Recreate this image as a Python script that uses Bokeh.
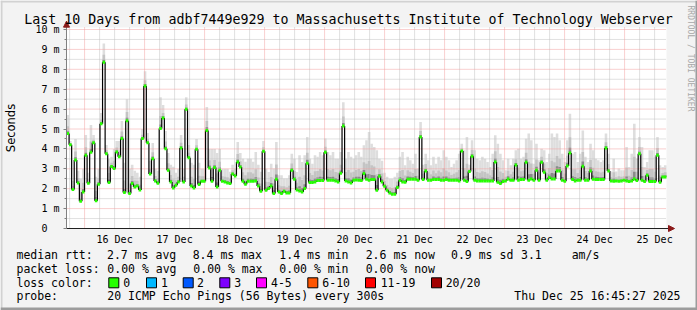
import numpy as np
import pandas as pd
from bokeh.plotting import figure
from bokeh.models import (Range1d, FixedTicker, Label, BoxAnnotation, Arrow,
                          NormalHead, ColumnDataSource, DatetimeTickFormatter)
from bokeh.embed import file_html
from bokeh.resources import INLINE

# ---------------- data ----------------
title_text = "Last 10 Days from adbf7449e929 to Massachusetts Institute of Technology Webserver"
end_time = "2025-12-25 16:45:27"
span_days = 10

# median round trip time per step (ms)
median_ms = [
    4.77, 4.21, 1.96, 3.44, 2.29, 1.37, 1.84, 3.68, 2.27, 3.83,
    4.31, 1.40, 2.22, 5.27, 8.36, 3.76, 2.31, 3.11, 3.01, 3.85,
    3.60, 4.52, 1.81, 5.42, 1.76, 2.26, 2.09, 2.14, 1.94, 4.52,
    7.16, 4.31, 2.74, 3.51, 2.39, 2.27, 5.02, 5.55, 4.01,
    2.93, 2.34, 2.04, 2.17, 2.34, 4.05, 2.34, 5.99, 3.55, 2.14,
    2.04, 3.98, 2.21, 2.37, 2.37, 4.93, 3.04, 2.37, 3.06, 2.09,
    2.93, 2.37, 2.34, 2.29, 2.26, 2.74, 2.64, 3.34, 3.09, 2.37,
    2.22, 2.37, 2.37, 2.37, 2.39, 2.14, 1.87, 3.88, 1.92,
    2.01, 2.14, 1.76, 2.47, 1.84, 1.76, 1.87, 1.79, 1.79, 2.93,
    2.47, 1.94, 1.89, 1.84, 2.01, 3.28, 2.31, 2.31, 2.34, 2.41,
    2.41, 2.41, 3.83, 2.42, 2.42, 2.42, 2.39, 2.34, 2.78, 5.15,
    2.39, 2.34, 2.29, 2.42, 2.44, 2.42, 2.41, 2.76,
    2.47, 2.42, 2.46, 2.46, 1.92, 2.63, 2.34, 2.12, 1.92, 1.79,
    1.72, 1.72, 2.06, 2.42, 2.34, 2.32, 2.47, 2.47, 2.47, 2.47,
    2.42, 4.60, 2.46, 2.89, 2.42, 2.42, 2.46, 2.46, 2.46, 2.42,
    2.42, 2.46, 2.42, 2.42, 2.42, 2.42, 2.39, 3.90, 2.42, 2.36,
    2.86, 3.63, 2.42, 2.39, 2.39, 2.39, 2.39, 2.39, 2.39, 2.39,
    3.34, 2.32, 2.26, 2.36, 2.39, 2.49, 2.42, 2.42, 3.19, 2.42,
    2.46, 2.46, 3.33, 2.42, 2.49, 2.42, 2.93, 2.42, 3.33, 2.83,
    2.42, 2.56, 2.49, 2.49, 2.89, 2.89, 2.42, 2.37, 3.14,
    3.80, 2.46, 2.39, 2.42, 2.42, 3.13, 2.42, 2.42, 2.89, 2.47,
    2.46, 2.46, 2.46, 2.46, 4.05, 2.89, 2.39, 2.37, 2.39, 2.37,
    2.39, 2.42, 2.39, 2.36, 2.39, 2.49, 2.41, 3.76, 2.42, 2.36,
    2.68, 2.36, 2.36, 2.36, 3.68, 2.32, 2.59, 2.59,
]

# upper edge of the smoke (slowest pings) per step (ms)
smoke_top_ms = [
    5.7, 4.4, 2.4, 4.5, 2.9, 2.5, 3.0, 4.7, 2.8, 5.2,
    4.7, 2.6, 3.0, 5.8, 9.3, 4.2, 3.5, 3.6, 4.0, 4.4,
    4.4, 5.4, 3.3, 6.5, 3.0, 3.2, 2.9, 2.8, 2.6, 5.0,
    7.9, 4.8, 3.4, 4.3, 3.0, 2.9, 6.6, 6.2, 4.9,
    3.8, 3.2, 3.1, 2.8, 3.0, 4.7, 3.0, 6.6, 4.2, 3.3,
    3.2, 4.5, 3.3, 3.0, 3.0, 6.1, 4.0, 4.0, 4.0, 3.8,
    4.0, 3.0, 3.0, 3.0, 2.85, 3.2, 3.0, 4.35, 3.8, 3.5,
    3.35, 3.5, 3.5, 3.35, 3.85, 3.2, 2.85, 4.4, 3.0,
    2.84, 3.26, 3.01, 4.35, 2.68, 2.68, 2.51, 2.51, 2.68, 3.76,
    3.51, 2.84, 3.68, 3.34, 3.68, 4.6, 3.51, 3.26, 3.68, 3.6,
    3.85, 3.68, 4.52, 3.85, 3.68, 3.85, 3.51, 3.51, 3.85, 6.35,
    3.51, 3.85, 3.6, 3.51, 3.68, 3.85, 3.6, 4.18,
    4.43, 4.85, 4.26, 4.09, 3.93, 3.5, 3.4, 2.8, 2.6, 2.5,
    2.5, 2.6, 2.8, 3.6, 3.84, 3.18, 3.6, 3.43, 3.26, 3.76,
    3.0, 5.35, 3.2, 3.76, 3.43, 3.18, 3.6, 3.26, 3.6, 3.43,
    3.93, 3.6, 3.43, 3.09, 3.26, 3.43, 3.76, 4.26, 3.93, 4.6,
    3.2, 4.43, 3.93, 3.51, 3.43, 3.6, 3.51, 3.34, 3.09, 3.76,
    4.68, 4.26, 3.76, 3.43, 2.93, 3.51, 3.18, 3.51, 3.93, 4.01,
    3.51, 3.6, 4.51, 4.77, 4.43, 3.26, 4.26, 3.43, 4.01, 3.93,
    3.34, 3.76, 4.77, 4.6, 4.77, 4.43, 3.76, 3.34, 4.43,
    5.77, 3.76, 3.85, 3.34, 3.76, 4.93, 3.6, 3.34, 4.26, 3.93,
    3.51, 3.43, 3.34, 3.43, 4.77, 3.76, 2.86, 3.51, 2.86, 3.01,
    2.93, 2.93, 4.09, 3.09, 3.76, 5.27, 3.51, 4.6, 4.09, 3.09,
    3.34, 3.93, 3.93, 3.6, 4.6, 3.18, 3.09, 3.18,
]

y_ticks = [0, 1, 2, 3, 4, 5, 6, 7, 8, 9, 10]
y_tick_labels = ["0\u00a0\u00a0", "1 m", "2 m", "3 m", "4 m", "5 m",
                 "6 m", "7 m", "8 m", "9 m", "10 m"]
y_top = 10.1

rtt_row = ["median rtt:", "2.7 ms avg", "8.4 ms max", "1.4 ms min",
           "2.6 ms now", "0.9 ms sd", "3.1", "am/s"]
loss_row = ["packet loss:", "0.00 % avg", "0.00 % max", "0.00 % min",
            "0.00 % now"]
loss_labels = ["0", "1", "2", "3", "4-5", "6-10", "11-19", "20/20"]
loss_colors = ["#26ff00", "#00b8ff", "#0059ff", "#7e00ff", "#ff00ff",
               "#ff5500", "#ff0000", "#a10000"]
probe_text = "20 ICMP Echo Pings (56 Bytes) every 300s"
stamp_text = "Thu Dec 25 16:45:27 2025"
side_text = "RRDTOOL / TOBI OETIKER"

# ---------------- layout (pixels, measured from top-left) ----------------
W, H = 697, 310
X0, X1 = 66, 666          # pixel columns of start / end time
Y0 = 228                  # pixel row of 0 ms
PPV = 19.9                # pixels per ms
MONO = "DejaVu Sans Mono"
rtt_x = [16, 106.5, 192.2, 278.8, 365.2, 450.5, 520.5, 571.2]
loss_x = [16, 106.8, 192.8, 278.8, 365.2]
box_x = [108.3, 146, 182.7, 219.3, 256, 307.3, 365, 431]
box_lab_x = [122.8, 160.5, 196.5, 233.8, 270.5, 321.8, 380.2, 445.2]
row_y = [254.3, 268.0, 282.3, 295.7]


def sx(x):
    return x


def sy(y):
    return H - y


# ---------------- derived ----------------
end = pd.Timestamp(end_time)
start = end - pd.Timedelta(days=span_days)
to_ms = lambda ts: ts.value / 1e6
t0, t1 = to_ms(start), to_ms(end)
mpp = (t1 - t0) / (X1 - X0)
n = len(median_ms)
step = (end - start) / n
edges = np.array([to_ms(start + i * step) for i in range(n + 1)])
med = np.array(median_ms)
top = np.maximum(np.array(smoke_top_ms), med)

src = ColumnDataSource(dict(
    left=edges[:-1], right=edges[1:], med=med, top=top,
    mid=med + 0.40 * (top - med), dark=med + 0.13 * (top - med)))

midnights = [to_ms(pd.Timestamp("2025-12-16") + pd.Timedelta(days=d)) for d in range(10)]
noons = [m + 12 * 3600e3 for m in midnights]
six_h = []
t = pd.Timestamp("2025-12-15 18:00")
while t < end:
    if t.hour != 0:
        six_h.append(to_ms(t))
    t += pd.Timedelta(hours=6)
halves = [v + 0.5 for v in range(10)]

p = figure(width=W, height=H, output_backend="svg", toolbar_location=None,
           x_range=Range1d(t0 - X0 * mpp, t1 + (W - X1) * mpp),
           y_range=Range1d(-(H - Y0) / PPV, Y0 / PPV))
p.min_border_left = p.min_border_right = 0
p.min_border_top = p.min_border_bottom = 0
p.background_fill_color = "#f3f3f3"
p.border_fill_color = "#f3f3f3"
p.outline_line_color = None
p.xgrid.visible = False
p.ygrid.visible = False

# white graph area
p.quad(left=[t0], right=[t1], bottom=[0], top=[y_top], fill_color="white",
       line_color=None, level="image")

# smoke
p.quad(left="left", right="right", bottom="med", top="top", source=src,
       fill_color="#dedede", line_color=None, level="underlay")
p.quad(left="left", right="right", bottom="med", top="mid", source=src,
       fill_color="#c4c4c4", line_color=None, level="underlay")
p.quad(left="left", right="right", bottom="med", top="dark", source=src,
       fill_color="#8a8a8a", line_color=None, level="underlay")

# grid lines (dotted), over the smoke
GRAY, PINK = "#c2c2c2", "#f2a0a0"
p.segment(x0=six_h, x1=six_h, y0=0, y1=y_top, line_color=GRAY, line_dash="1 1")
p.segment(x0=t0, x1=t1, y0=halves, y1=halves, line_color=GRAY, line_dash="1 1")
p.segment(x0=midnights, x1=midnights, y0=0, y1=y_top, line_color=PINK, line_dash="1 1")
p.segment(x0=t0, x1=t1, y0=y_ticks[1:], y1=y_ticks[1:], line_color=PINK, line_dash="1 1")

# median line
p.segment(x0=edges[1:-1], x1=edges[1:-1], y0=med[:-1], y1=med[1:],
          line_color="#000000", line_width=1.2)
p.segment(x0="left", x1="right", y0="med", y1="med", source=src,
          line_color="#26ff00", line_width=3)

# axes, pinned at the data origin
yax = p.yaxis[0]
yax.fixed_location = t0
yax.bounds = (0, 10.4)
yax.ticker = FixedTicker(ticks=y_ticks, minor_ticks=[v / 2 for v in range(21)])
yax.major_label_overrides = dict(zip(y_ticks, y_tick_labels))
yax.major_tick_out = 3
yax.major_tick_in = 0
yax.minor_tick_out = 2
yax.minor_tick_in = 0
yax.major_label_standoff = 4
yax.axis_line_color = "#808080"
yax.major_tick_line_color = "#808080"
yax.minor_tick_line_color = "#808080"

xax = p.xaxis[0]
xax.fixed_location = 0
xax.bounds = (t0, t1 + 4 * mpp)
xax.ticker = FixedTicker(ticks=noons)
fmt = "%d %b"
xax.formatter = DatetimeTickFormatter(
    microseconds=fmt, milliseconds=fmt, seconds=fmt, minsec=fmt, minutes=fmt,
    hourmin=fmt, hours=fmt, days=fmt, months=fmt, years=fmt)
xax.major_tick_out = 0
xax.major_tick_in = 0
xax.minor_tick_line_color = None
xax.major_tick_line_color = None
xax.major_label_standoff = 5
xax.axis_line_color = "#202020"

for ax in (xax, yax):
    ax.major_label_text_font = MONO
    ax.major_label_text_font_size = "10px"
    ax.major_label_text_color = "#000000"

# arrow heads on the axes
ARROW = "#8b1a1a"
p.add_layout(Arrow(end=NormalHead(size=6, fill_color=ARROW, line_color=ARROW),
                   x_start=t0, y_start=0, x_end=t0, y_end=10.42,
                   line_alpha=0.0))
p.add_layout(Arrow(end=NormalHead(size=6, fill_color=ARROW, line_color=ARROW),
                   x_start=t0, y_start=0, x_end=t1 + 8 * mpp, y_end=0,
                   line_alpha=0.0))


def txt(text, x, y, size="11.5px", font=MONO, color="#000000", align="left",
        angle=0.0):
    p.add_layout(Label(x=sx(x), y=sy(y), x_units="screen", y_units="screen",
                       text=text, text_font=font, text_font_size=size,
                       text_color=color, text_align=align,
                       text_baseline="middle", angle=angle))


def box(l, r, t_, b, fill, line=None):
    p.add_layout(BoxAnnotation(left=sx(l), right=sx(r), top=sy(t_), bottom=sy(b),
                               left_units="screen", right_units="screen",
                               top_units="screen", bottom_units="screen",
                               fill_color=fill, fill_alpha=1.0,
                               line_color=line if line else fill,
                               line_alpha=1.0 if line else 0.0,
                               line_width=1, level="overlay"))


# title, axis label, side text
txt(title_text, 348, 18.5, size="13.3px", align="center")
txt("Seconds", 10.5, 127.5, size="11.5px", font="DejaVu Sans", angle=np.pi / 2,
    align="center")
txt(side_text, 690, 58, size="8px", color="#a8a8a8", angle=-np.pi / 2,
    align="center")

# legend
for s, x in zip(rtt_row, rtt_x):
    txt(s, x, row_y[0])
for s, x in zip(loss_row, loss_x):
    txt(s, x, row_y[1])
txt("loss color:", 16, row_y[2])
for lab, col, bx, lx in zip(loss_labels, loss_colors, box_x, box_lab_x):
    box(bx, bx + 10, row_y[2] - 5, row_y[2] + 5, col, "#000000")
    txt(lab, lx, row_y[2])
txt("probe:", 16, row_y[3])
txt(probe_text, 106.8, row_y[3])
txt(stamp_text, 680, row_y[3], align="right")

# 3D canvas border
box(0, W, 0, 2, "#d2d2d2")
box(0, 2, 0, H, "#d2d2d2")
box(W - 2, W, 0, H, "#9c9c9c")
box(0, W, H - 3, H, "#9c9c9c")

open("out.html", "w").write(file_html(p, INLINE))
